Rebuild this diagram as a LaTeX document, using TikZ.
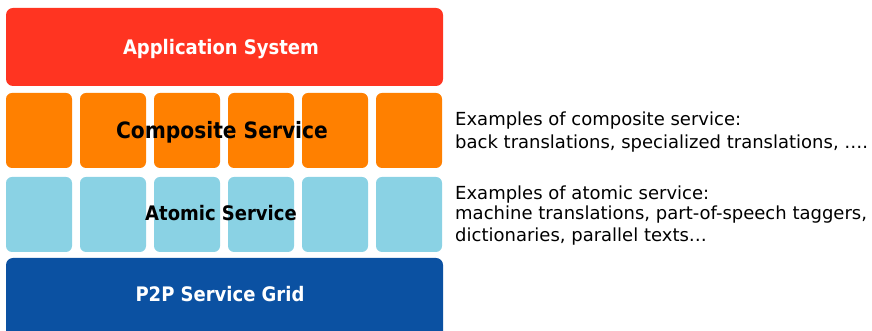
\documentclass[tikz,border=0pt]{standalone}
\usepackage{fontspec}
\setmainfont{DejaVu Sans}
\newfontfamily\titlefont{DejaVu Sans Condensed}[BoldFont={DejaVu Sans Condensed Bold}]
\begin{document}
\begin{tikzpicture}[x=1pt,y=1pt,
  layer/.style={rounded corners=7pt},
  cell/.style={rounded corners=6pt},
  title/.style={font=\titlefont\fontsize{20}{24}\selectfont\bfseries, anchor=base, inner sep=0pt},
  bigtitle/.style={title, font=\titlefont\fontsize{22.5}{27}\selectfont\bfseries},
  note/.style={font=\fontsize{18}{21}\selectfont, anchor=base west, inner sep=0pt}]
\definecolor{appred}{HTML}{FF3421}
\definecolor{comporange}{HTML}{FF8000}
\definecolor{atomblue}{HTML}{8AD2E4}
\definecolor{gridblue}{HTML}{0B51A2}
\useasboundingbox (0,0) rectangle (872,331);
\clip (0,0) rectangle (872,331);
% application layer
\fill[appred, layer] (6,245) rectangle (443,323);
% composite and atomic service cells
\foreach \x in {6,80,154,228,302,376} {
  \fill[comporange, cell] (\x,163) rectangle ++(66,75);
  \fill[atomblue, cell] (\x,79) rectangle ++(66,75);
}
% service grid layer
\fill[gridblue, layer] (6,-20) rectangle (443,73);
% layer titles
\node[title, text=white] (app) at (221,276) {Application System};
\node[bigtitle, text=black] (comp) at (222,192) {Composite Service};
\node[title, text=black] (atom) at (221,110) {Atomic Service};
\node[title, text=white] (grid) at (220,29) {P2P Service Grid};
% examples
\node[note] (ce1) at (455,205.5) {Examples of composite service:};
\node[note] (ce2) at (455,182.5) {back translations, specialized translations, ….};
\node[note] (ae1) at (455,131) {Examples of atomic service:};
\node[note] (ae2) at (455,111) {machine translations, part-of-speech taggers,};
\node[note] (ae3) at (455,89.5) {dictionaries, parallel texts…};
\end{tikzpicture}
\end{document}
